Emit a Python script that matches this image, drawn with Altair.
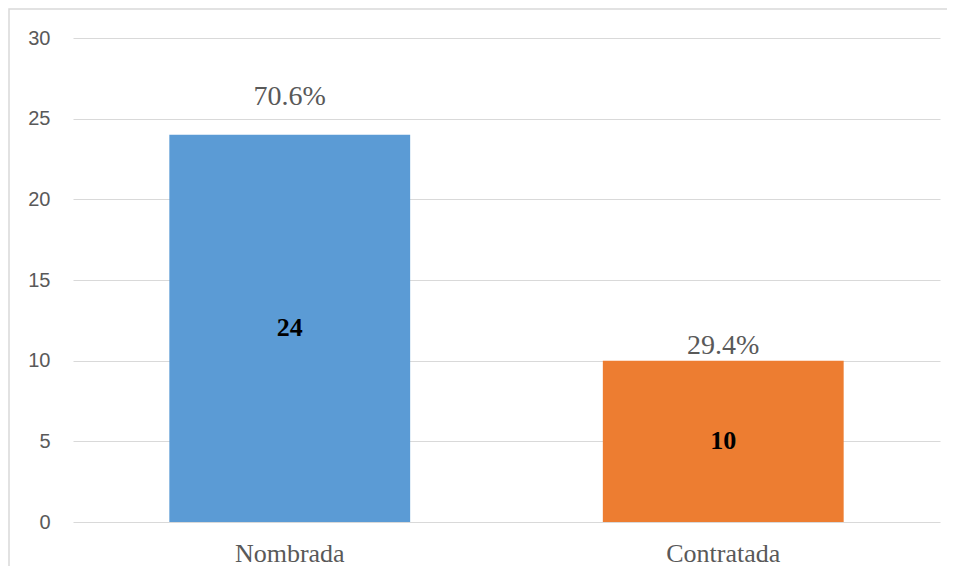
import altair as alt
import pandas as pd

categories = ["Nombrada", "Contratada"]
counts = [24, 10]
percents = ["70.6%", "29.4%"]
colors = ["#5B9BD5", "#ED7D31"]

df = pd.DataFrame({"cat": categories, "n": counts, "pct": percents, "color": colors})

W, H = 867, 484

xenc = alt.X("cat:N", sort=categories, title=None,
             scale=alt.Scale(paddingInner=0.8 / 1.8, paddingOuter=0.4 / 1.8),
             axis=alt.Axis(labelAngle=0, domain=False, ticks=False, labelFont="Liberation Serif",
                           labelFontSize=26, labelColor="#595959", labelPadding=31,
                           labelBaseline="middle", grid=False))
yscale = alt.Scale(domain=[0, 30], nice=False)

base = alt.Chart(df)

frame = base.mark_rect(fillOpacity=0, stroke="#d9d9d9", strokeWidth=1.5, clip=False).encode(
    x=alt.value(-64), x2=alt.value(W + 200), y=alt.value(-29), y2=alt.value(H + 80)
).transform_filter(alt.datum.cat == "Nombrada")

bars = base.mark_bar().encode(
    x=xenc,
    y=alt.Y("n:Q", scale=yscale, title=None,
            axis=alt.Axis(values=[0, 5, 10, 15, 20, 25, 30], domain=False, ticks=False,
                          labelFont="Liberation Sans", labelFontSize=20, labelColor="#595959",
                          labelPadding=23, gridColor="#d9d9d9", gridWidth=1)),
    color=alt.Color("color:N", scale=None, legend=None),
)

inner = base.mark_text(font="Liberation Serif", fontSize=26, fontWeight="bold", color="black",
                       baseline="middle").encode(
    x=alt.X("cat:N", sort=categories),
    y=alt.Y("mid:Q", scale=yscale),
    text="n:Q",
).transform_calculate(mid="datum.n / 2")

pct1 = base.mark_text(font="Liberation Serif", fontSize=28, color="#595959",
                      baseline="middle", dy=-38).encode(
    x=alt.X("cat:N", sort=categories), y=alt.Y("n:Q", scale=yscale), text="pct:N"
).transform_filter(alt.datum.cat == "Nombrada")

pct2 = base.mark_text(font="Liberation Serif", fontSize=28, color="#595959",
                      baseline="middle", dy=-15).encode(
    x=alt.X("cat:N", sort=categories), y=alt.Y("n:Q", scale=yscale), text="pct:N"
).transform_filter(alt.datum.cat == "Contratada")

chart = alt.layer(frame, bars, inner, pct1, pct2).properties(
    width=W, height=H,
    autosize=alt.AutoSizeParams(type="none"),
    padding={"left": 65, "top": 30, "right": 7, "bottom": 44},
    background="white",
).configure_view(stroke=None)

chart.save("out.html", embed_options={"renderer": "svg", "actions": False})
